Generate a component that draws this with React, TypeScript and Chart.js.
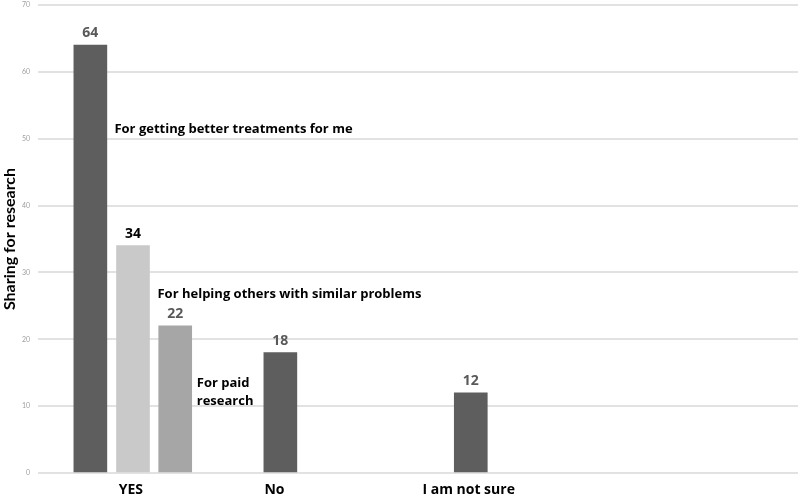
import React, { useEffect, useRef } from "react";
import { Chart, registerables } from "chart.js";

Chart.register(...registerables);

// Category (x-axis) labels and their slot positions on the horizontal axis
const categories = ["YES", "No", "I am not sure"];
const categorySlots = [2.2, 5.6, 10.2];

// Bars
const barNames = [
  "For getting better treatments for me",
  "For helping others with similar problems",
  "For paid research",
  "No",
  "I am not sure",
];
const barSlots = [1.24, 2.25, 3.25, 5.74, 10.25];
const barValues = [64, 34, 22, 18, 12];

// Y axis ticks
const yTicks = [0, 10, 20, 30, 40, 50, 60, 70];
const yTitle = "Sharing for research";

// Annotation texts
const annotationLines = [
  ["For getting better treatments for me"],
  ["For helping others with similar problems"],
  ["For paid", "research"],
];

const BAR_COLORS = ["#5e5e5e", "#c9c9c9", "#a6a6a6", "#5e5e5e", "#5e5e5e"];
const VALUE_COLORS = ["#595959", "#000000", "#595959", "#595959", "#595959"];
const ANNOT_POS = [
  { x: 1.81, y: 51.4 },
  { x: 2.83, y: 26.75 },
  { x: 3.76, y: 12.1 },
];
const FONT = "'Open Sans', Lato, sans-serif";
const TITLE_FONT = "Lato, 'Open Sans', sans-serif";

const labelsPlugin = {
  id: "labelsPlugin",
  afterDatasetsDraw(chart: any) {
    const { ctx } = chart;
    const xs = chart.scales.x;
    const ys = chart.scales.y;
    const meta = chart.getDatasetMeta(0);
    ctx.save();
    // value labels
    ctx.font = `bold 14px ${FONT}`;
    ctx.textAlign = "center";
    ctx.textBaseline = "middle";
    meta.data.forEach((bar: any, i: number) => {
      ctx.fillStyle = VALUE_COLORS[i];
      ctx.fillText(String(barValues[i]), bar.x, bar.y - 12);
    });
    // annotations
    ctx.font = `bold 13px ${FONT}`;
    ctx.fillStyle = "#000000";
    ctx.textAlign = "left";
    annotationLines.forEach((lines, i) => {
      const px = xs.getPixelForValue(ANNOT_POS[i].x);
      const py = ys.getPixelForValue(ANNOT_POS[i].y);
      const lh = 17.4;
      const start = py - ((lines.length - 1) * lh) / 2;
      lines.forEach((t, j) => ctx.fillText(t, px, start + j * lh));
    });
    ctx.restore();
  },
};

export default function App() {
  const ref = useRef<HTMLCanvasElement | null>(null);
  useEffect(() => {
    if (!ref.current) return;
    const chart = new Chart(ref.current, {
      type: "bar",
      data: {
        datasets: [
          {
            label: "Sharing",
            data: barSlots.map((x, i) => ({ x, y: barValues[i] })),
            backgroundColor: BAR_COLORS,
            barThickness: 33,
            borderWidth: 0,
          },
        ],
      },
      options: {
        animation: false,
        responsive: true,
        maintainAspectRatio: false,
        layout: { padding: { top: 5, right: 2, left: 0, bottom: 0 } },
        plugins: {
          legend: { display: false },
          tooltip: { enabled: false },
        },
        scales: {
          x: {
            type: "linear",
            min: 0,
            max: 18,
            offset: false,
            grid: { display: false, drawTicks: false },
            border: { display: false },
            afterBuildTicks: (scale: any) => {
              scale.ticks = categorySlots.map((v) => ({ value: v }));
            },
            afterFit: (scale: any) => {
              scale.height = 26;
              scale.paddingLeft = 0;
              scale.paddingRight = 0;
            },
            ticks: {
              autoSkip: false,
              maxRotation: 0,
              padding: 9,
              color: "#000000",
              font: { family: FONT, size: 14, weight: "bold" },
              callback: (v: any) => {
                const i = categorySlots.indexOf(Number(v));
                return i >= 0 ? categories[i] : "";
              },
            },
          },
          y: {
            min: 0,
            max: 70,
            afterBuildTicks: (scale: any) => {
              scale.ticks = yTicks.map((v) => ({ value: v }));
            },
            afterFit: (scale: any) => {
              scale.width = 38;
              scale.paddingTop = 0;
              scale.paddingBottom = 0;
            },
            grid: { color: "#e2e2e2", lineWidth: 2, drawTicks: false },
            border: { display: false },
            ticks: {
              padding: 8,
              color: "#a0a0a0",
              font: { family: TITLE_FONT, size: 7 },
            },
            title: {
              display: true,
              text: yTitle,
              color: "#000000",
              padding: { top: 0, bottom: 0 },
              font: { family: TITLE_FONT, size: 16, weight: "bold" },
            },
          },
        },
      },
      plugins: [labelsPlugin],
    });
    return () => chart.destroy();
  }, []);
  return (
    <div style={{ position: "absolute", left: 0, top: 0, width: 800, height: 499 }}>
      <canvas ref={ref} />
    </div>
  );
}
